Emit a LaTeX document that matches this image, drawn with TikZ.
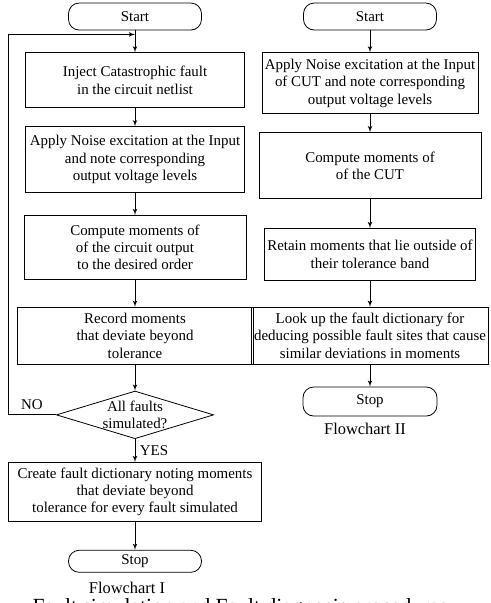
\documentclass[tikz,border=0pt]{standalone}
\usepackage{fontspec}
\setmainfont{Liberation Serif}
\usetikzlibrary{positioning, arrows}
\usetikzlibrary{shapes.geometric}

\begin{document}
\begin{tikzpicture}[>=latex', line width=0.6pt]
    \tikzset{block/.style = {draw, rectangle, align=center, inner sep=2pt,
                                font=\fontsize{11.2}{13}\selectfont},
             term/.style = {draw, shape=rectangle, rounded corners=8pt, align=center, inner sep=2pt,
                                minimum width = 99.75pt, font=\fontsize{11.2}{13}\selectfont},
             decision/.style = {draw, diamond, aspect=3.3, inner sep=0pt, align=center,
                                font=\fontsize{11.2}{13}\selectfont},
             caption/.style = {font=\fontsize{12.3}{14}\selectfont}
            }
    \useasboundingbox (0,0) rectangle (367.5pt,-452.25pt);
    % Flowchart I
    \node (startL) [term, minimum height=20.25pt] at (101.25pt,-12.4pt) {Start};
    \node (inject) [block, minimum width=164.25pt, minimum height=41.25pt, below=16.5pt of startL]
        {Inject Catastrophic fault\\ in the circuit netlist};
    \node (noiseL) [block, minimum width=164.25pt, minimum height=49.5pt, below=13.5pt of inject]
        {Apply Noise excitation at the Input\\ and note corresponding\\ output voltage levels};
    \node (momL) [block, minimum width=166.5pt, minimum height=48pt, below=16.5pt of noiseL]
        {Compute moments of\\ of the circuit output\\ to the desired order};
    \node (record) [block, minimum width=177pt, minimum height=42.75pt, below=20.25pt of momL]
        {Record moments\\ that deviate beyond\\ tolerance};
    \node (dec) [decision, below=19.5pt of record] {All faults\\ simulated?};
    \node (dict) [block, minimum width=189.75pt, minimum height=44.25pt, below=17.25pt of dec]
        {Create fault dictionary noting moments\\ that deviate beyond\\ tolerance for every fault simulated};
    \node (stopL) [term, minimum height=16.5pt, below=21pt of dict] {Stop};
    \node (capL) [caption, below=3.75pt of stopL, xshift=-6pt] {Flowchart I};
    \coordinate [below=3pt of startL] (join);
    \coordinate (lft) at (6pt,0);
    \path[draw, ->] (startL) edge (inject);
    \path[draw, ->] (inject) edge (noiseL);
    \path[draw, ->] (noiseL) edge (momL);
    \path[draw, ->] (momL) edge (record);
    \path[draw, ->] (record) edge (dec);
    \path[draw, ->] (dec) edge node[right, font=\fontsize{11.2}{13}\selectfont] {YES} (dict);
    \path[draw, ->] (dict) edge (stopL);
    \draw[->] (dec.west) -- node[above, font=\fontsize{11.2}{13}\selectfont] {NO} (dec.west -| lft) |- (join);
    % Flowchart II
    \node (startR) [term, minimum height=20.25pt] at (277.5pt,-12.4pt) {Start};
    \node (noiseR) [block, minimum width=162pt, minimum height=45.75pt, below=16.5pt of startR]
        {Apply Noise excitation at the Input\\ of CUT and note corresponding\\ output voltage levels};
    \node (momR) [block, minimum width=166.5pt, minimum height=49.5pt, below=13.5pt of noiseR]
        {Compute moments of\\ of the CUT};
    \node (retain) [block, minimum width=156.75pt, minimum height=39pt, below=21.75pt of momR]
        {Retain moments that lie outside of\\ their tolerance band};
    \node (lookup) [block, minimum width=174pt, minimum height=42.75pt, below=19.5pt of retain]
        {Look up the fault dictionary for\\ deducing possible fault sites that cause\\ similar deviations in moments};
    \node (stopR) [term, minimum height=21.75pt, minimum width=100.5pt, below=16.5pt of lookup] {Stop};
    \node (capR) [caption, below=1.5pt of stopR, xshift=-3.75pt] {Flowchart II};
    \path[draw, ->] (startR) edge (noiseR);
    \path[draw, ->] (noiseR) edge (momR);
    \path[draw, ->] (momR) edge (retain);
    \path[draw, ->] (retain) edge (lookup);
    \path[draw, ->] (lookup) edge (stopR);
    \node (title) [anchor=north, inner sep=0pt, font=\fontsize{16.2}{18}\selectfont] at (180pt,-448.8pt)
        {Fault simulation and Fault diagnosis procedures};
\end{tikzpicture}
\end{document}
